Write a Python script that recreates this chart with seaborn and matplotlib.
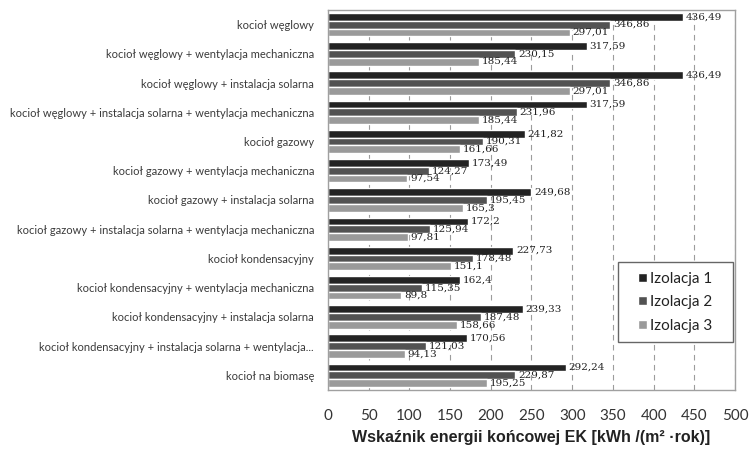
import matplotlib
matplotlib.use("Agg")
import matplotlib.pyplot as plt
from matplotlib.patches import Rectangle
import seaborn as sns
import pandas as pd

# Heating system variants (rows of the chart)
warianty = [
    "kocioł węglowy",
    "kocioł węglowy + wentylacja mechaniczna",
    "kocioł węglowy + instalacja solarna",
    "kocioł węglowy + instalacja solarna + wentylacja mechaniczna",
    "kocioł gazowy",
    "kocioł gazowy + wentylacja mechaniczna",
    "kocioł gazowy + instalacja solarna",
    "kocioł gazowy + instalacja solarna + wentylacja mechaniczna",
    "kocioł kondensacyjny",
    "kocioł kondensacyjny + wentylacja mechaniczna",
    "kocioł kondensacyjny + instalacja solarna",
    "kocioł kondensacyjny + instalacja solarna + wentylacja...",
    "kocioł na biomasę",
]

izolacja_1 = [436.49, 317.59, 436.49, 317.59, 241.82, 173.49, 249.68, 172.2,
              227.73, 162.4, 239.33, 170.56, 292.24]
izolacja_2 = [346.86, 230.15, 346.86, 231.96, 190.31, 124.27, 195.45, 125.94,
              178.48, 115.35, 187.48, 121.03, 229.87]
izolacja_3 = [297.01, 185.44, 297.01, 185.44, 161.66, 97.54, 165.3, 97.81,
              151.1, 89.8, 158.66, 94.13, 195.25]

serie = ["Izolacja 1", "Izolacja 2", "Izolacja 3"]
kolory = ["#232323", "#525252", "#9a9a9a"]
x_ticks = [0, 50, 100, 150, 200, 250, 300, 350, 400, 450, 500]

rows = []
for nazwa, wartosci in zip(serie, [izolacja_1, izolacja_2, izolacja_3]):
    for w, v in zip(warianty, wartosci):
        rows.append({"wariant": w, "seria": nazwa, "EK": v})
df = pd.DataFrame(rows)

sns.set_theme(style="white")
plt.rcParams["font.family"] = ["Lato", "DejaVu Sans"]

fig = plt.figure(figsize=(7.5, 4.51), dpi=100)
ax = fig.add_axes([0.4373, 0.1353, 0.5427, 0.8425])

sns.barplot(data=df, y="wariant", x="EK", hue="seria", order=warianty,
            hue_order=serie, palette=kolory, orient="h", width=0.8,
            saturation=1, ax=ax, errorbar=None, legend=True)

# value labels with decimal commas
for cont in ax.containers:
    labels = [f"{b.get_width():g}".replace(".", ",") for b in cont]
    ax.bar_label(cont, labels=labels, padding=2, fontsize=7.5,
                 family="DejaVu Serif", color="#222222")

ax.set_xlim(0, 500)
ax.set_xticks(x_ticks)
ax.set_xticklabels([str(t) for t in x_ticks], fontsize=11, color="#333333")
ax.tick_params(axis="x", length=0, pad=14)
ax.tick_params(axis="y", length=0, pad=10, labelsize=8.0, labelcolor="#3a3a3a")
ax.set_ylabel("")
ax.set_xlabel("Wskaźnik energii końcowej EK [kWh /(m² ·rok)]",
              fontsize=11.5, fontweight="bold", family="Liberation Sans",
              color="#222222", labelpad=5)

ax.set_axisbelow(True)
ax.xaxis.grid(True, linestyle=(0, (5, 4)), color="#9c9c9c", linewidth=0.8)
ax.yaxis.grid(False)
for side in ["top", "right", "bottom", "left"]:
    ax.spines[side].set_color("#a0a0a0")
    ax.spines[side].set_linewidth(1)

# legend in a framed box inside the plot area
ax.add_patch(Rectangle((0.7125, 0.126), 0.2826, 0.2105, transform=ax.transAxes,
                       facecolor="white", edgecolor="#666666", linewidth=1,
                       zorder=4))
leg = ax.legend(loc="center", bbox_to_anchor=(0.8538, 0.231),
                fontsize=11, frameon=False, handlelength=0.55,
                handleheight=0.55, handletextpad=0.25, labelspacing=0.62,
                borderpad=0, borderaxespad=0, title=None)
leg.set_zorder(5)
for t in leg.get_texts():
    t.set_color("#222222")

fig.savefig("out.png", dpi=100)
